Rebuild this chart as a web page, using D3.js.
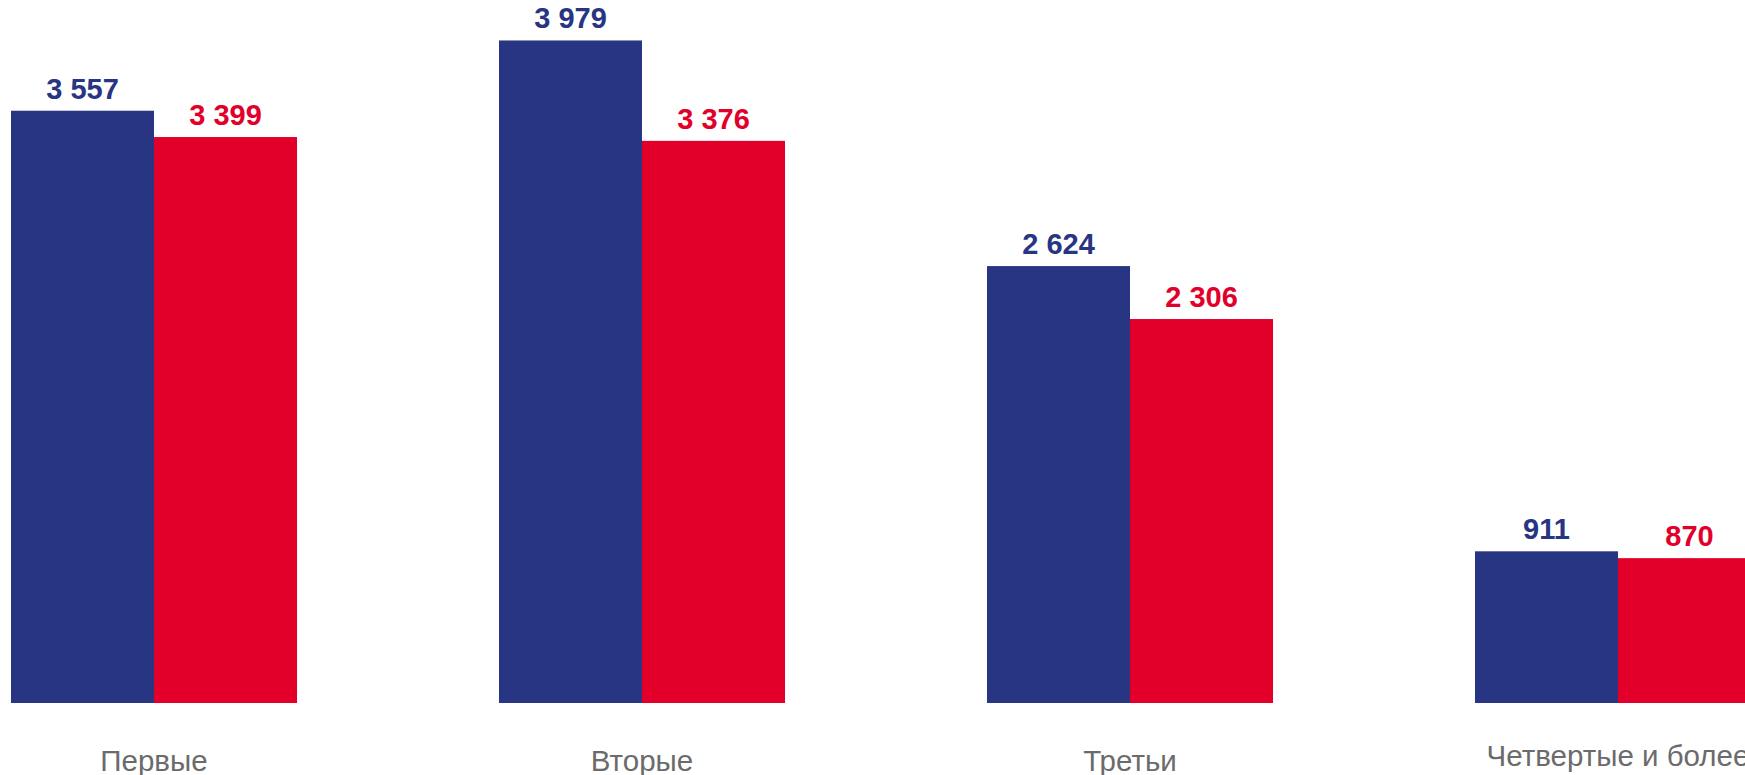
<!DOCTYPE html>
<html>
<head>
<meta charset="utf-8">
<script src="https://cdn.jsdelivr.net/npm/d3@7/dist/d3.min.js"></script>
<style>
  html, body { margin: 0; padding: 0; background: #fff; }
  svg { display: block; }
</style>
</head>
<body>
<svg id="chart" width="1745" height="775"></svg>
<script>
const categories = ["Первые", "Вторые", "Третьи", "Четвертые и более"];
const seriesNames = ["A", "B"];
const seriesA = [3557, 3979, 2624, 911];
const seriesB = [3399, 3376, 2306, 870];
const colors = ["#283583", "#e2002b"];

const W = 1745, H = 775;
const svg = d3.select("#chart");

const x0 = d3.scaleBand().domain(categories).range([11, 1761]).paddingInner(0.4139).paddingOuter(0);
const x1 = d3.scaleBand().domain(seriesNames).range([0, x0.bandwidth()]).padding(0);
const y = d3.scaleLinear().domain([0, 4222]).range([703, 0]);

const fmt = v => d3.format(",")(v).replace(/,/g, " ");

const data = categories.map((c, i) => ({ cat: c, vals: [seriesA[i], seriesB[i]] }));

const g = svg.append("g");
const groups = g.selectAll("g.grp").data(data).join("g")
  .attr("class", "grp")
  .attr("transform", d => `translate(${x0(d.cat)},0)`);

groups.selectAll("rect").data(d => d.vals.map((v, j) => ({ v, s: seriesNames[j], j })))
  .join("rect")
  .attr("x", d => x1(d.s))
  .attr("y", d => y(d.v))
  .attr("width", x1.bandwidth())
  .attr("height", d => y(0) - y(d.v))
  .attr("fill", d => colors[d.j]);

groups.selectAll("text.val").data(d => d.vals.map((v, j) => ({ v, s: seriesNames[j], j })))
  .join("text")
  .attr("class", "val")
  .attr("x", d => x1(d.s) + x1.bandwidth() / 2)
  .attr("y", d => y(d.v) - 12)
  .attr("text-anchor", "middle")
  .attr("font-family", "Liberation Sans, Arial, sans-serif")
  .attr("font-weight", "bold")
  .attr("font-size", 29)
  .attr("fill", d => colors[d.j])
  .text(d => fmt(d.v));

g.selectAll("text.cat").data(categories).join("text")
  .attr("class", "cat")
  .attr("x", d => x0(d) + x0.bandwidth() / 2)
  .attr("y", (d, i) => i === categories.length - 1 ? 766 : 771)
  .attr("text-anchor", "middle")
  .attr("font-family", "Liberation Sans, Arial, sans-serif")
  .attr("font-size", 29.5)
  .attr("fill", "#6b6b6b")
  .text(d => d);
</script>
</body>
</html>
